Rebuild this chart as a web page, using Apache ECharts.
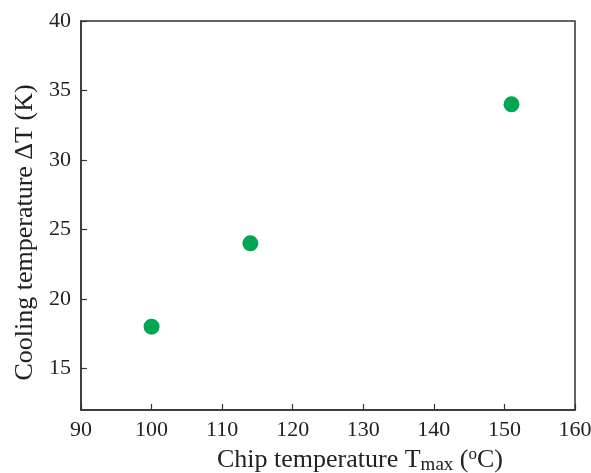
<!DOCTYPE html>
<html><head><meta charset="utf-8">
<script src="https://cdn.jsdelivr.net/npm/echarts@6/dist/echarts.min.js"></script>
<style>html,body{margin:0;padding:0;background:#fff}#c{width:591px;height:473px}</style>
</head><body><div id="c"></div>
<script>
var chipTemp = [100, 114, 151];
var coolingDT = [18, 24, 34];
var xTicks = [90, 100, 110, 120, 130, 140, 150, 160];
var yTicks = [15, 20, 25, 30, 35, 40];

var font = 'Liberation Serif';
var chart = echarts.init(document.getElementById('c'));
chart.setOption({
  animation: false,
  grid: {left: 81, right: 16, top: 21, bottom: 63, show: true, borderColor: '#333', borderWidth: 1.5,
    outerBoundsMode: 'none', containLabel: false},
  xAxis: {
    type: 'value', min: 90, max: 160, interval: 10,
    axisLine: {show: true, lineStyle: {color: '#333', width: 1.5}},
    axisTick: {show: true, inside: true, length: 6, lineStyle: {color: '#333', width: 1.2}},
    axisLabel: {color: '#222', fontFamily: font, fontSize: 22, margin: 9,
      formatter: function (v) { return xTicks.indexOf(v) >= 0 ? String(v) : ''; }},
    splitLine: {show: false},
    name: '{n|Chip temperature T}{s|max}{n| (}{p|o}{n|C)}',
    nameLocation: 'middle', nameGap: 34,
    nameTextStyle: {padding: [0, 0, 0, 64],
      rich: {
        n: {fontFamily: font, fontSize: 26, color: '#222'},
        s: {fontFamily: font, fontSize: 19, color: '#222', verticalAlign: 'bottom', padding: [10, 0, 0, 0]},
        p: {fontFamily: font, fontSize: 17, color: '#222', verticalAlign: 'top', padding: [0, 0, 9, 0]}
      }}
  },
  yAxis: {
    type: 'value', min: 12, max: 40, interval: 5,
    axisLine: {show: true, lineStyle: {color: '#333', width: 1.5}},
    axisTick: {show: true, inside: true, length: 6, lineStyle: {color: '#333', width: 1.2},
      customValues: yTicks},
    axisLabel: {color: '#222', fontFamily: font, fontSize: 22, margin: 10,
      customValues: yTicks},
    splitLine: {show: false},
    name: 'Cooling temperature ΔT (K)',
    nameLocation: 'middle', nameGap: 42,
    nameTextStyle: {fontFamily: font, fontSize: 26, color: '#222', padding: [0, 34, 0, 0]}
  },
  series: [{
    type: 'scatter',
    data: chipTemp.map(function (x, i) { return [x, coolingDT[i]]; }),
    symbol: 'circle', symbolSize: 16,
    itemStyle: {color: '#00a651', opacity: 1}
  }]
});
</script></body></html>
